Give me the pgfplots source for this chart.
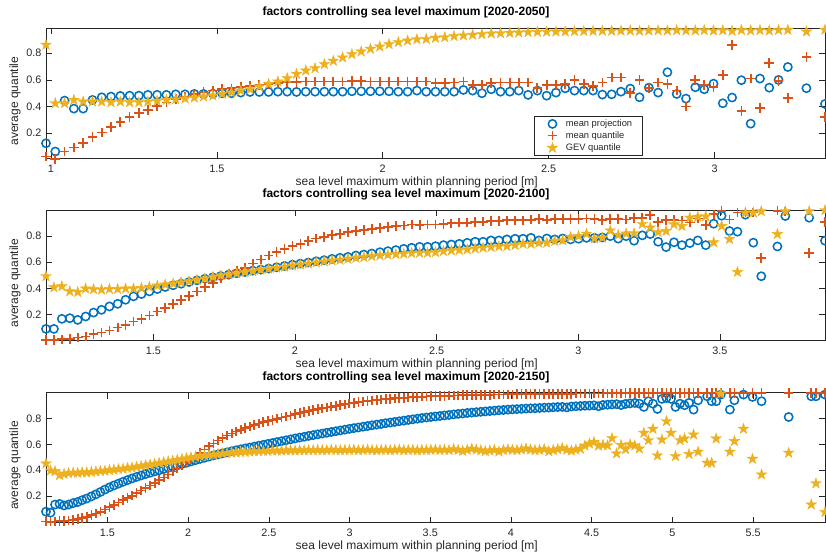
\documentclass[border=0pt]{standalone}
\usepackage{pgfplots}
\pgfplotsset{compat=1.18}
\usepackage{pgfplotstable}
\usepackage{fontspec}
\setmainfont{Liberation Sans}
\definecolor{cA}{RGB}{0,114,189}
\definecolor{cB}{RGB}{217,83,25}
\definecolor{cC}{RGB}{237,177,32}
\definecolor{axc}{RGB}{38,38,38}

\pgfdeclareplotmark{pentagram}{%
  \pgfpathmoveto{\pgfpointpolar{90}{\pgfplotmarksize}}%
  \pgfpathlineto{\pgfpointpolar{126}{0.382\pgfplotmarksize}}%
  \pgfpathlineto{\pgfpointpolar{162}{\pgfplotmarksize}}%
  \pgfpathlineto{\pgfpointpolar{198}{0.382\pgfplotmarksize}}%
  \pgfpathlineto{\pgfpointpolar{234}{\pgfplotmarksize}}%
  \pgfpathlineto{\pgfpointpolar{270}{0.382\pgfplotmarksize}}%
  \pgfpathlineto{\pgfpointpolar{306}{\pgfplotmarksize}}%
  \pgfpathlineto{\pgfpointpolar{342}{0.382\pgfplotmarksize}}%
  \pgfpathlineto{\pgfpointpolar{18}{\pgfplotmarksize}}%
  \pgfpathlineto{\pgfpointpolar{54}{0.382\pgfplotmarksize}}%
  \pgfpathclose
  \pgfusepathqfillstroke
}

% 2020-2050
\pgfplotstableread{
x c p s
0.985 0.125 0.025 0.863
1.013 0.063 0.008 0.425
1.041 0.445 0.063 0.425
1.069 0.385 0.093 0.450
1.097 0.385 0.125 0.437
1.125 0.450 0.170 0.437
1.153 0.470 0.205 0.437
1.181 0.475 0.245 0.432
1.209 0.480 0.283 0.437
1.237 0.482 0.320 0.432
1.265 0.482 0.350 0.432
1.292 0.488 0.375 0.437
1.320 0.488 0.405 0.442
1.348 0.488 0.430 0.450
1.376 0.492 0.455 0.455
1.404 0.492 0.475 0.460
1.432 0.495 0.492 0.467
1.460 0.495 0.508 0.475
1.488 0.497 0.520 0.482
1.516 0.500 0.530 0.495
1.544 0.500 0.537 0.505
1.572 0.505 0.545 0.520
1.600 0.510 0.555 0.530
1.628 0.510 0.563 0.550
1.656 0.510 0.570 0.570
1.684 0.512 0.575 0.588
1.712 0.512 0.582 0.613
1.740 0.510 0.585 0.645
1.768 0.512 0.588 0.670
1.796 0.512 0.588 0.688
1.824 0.512 0.588 0.718
1.851 0.512 0.588 0.743
1.879 0.512 0.588 0.768
1.907 0.515 0.592 0.793
1.935 0.515 0.592 0.813
1.963 0.515 0.588 0.833
1.991 0.515 0.588 0.850
2.019 0.515 0.588 0.868
2.047 0.512 0.588 0.883
2.075 0.512 0.588 0.895
2.103 0.520 0.588 0.905
2.131 0.512 0.588 0.907
2.159 0.512 0.575 0.915
2.187 0.512 0.575 0.920
2.215 0.512 0.580 0.928
2.243 0.525 0.588 0.933
2.271 0.520 0.563 0.938
2.299 0.500 0.563 0.943
2.327 0.530 0.575 0.948
2.355 0.512 0.580 0.950
2.383 0.512 0.580 0.953
2.410 0.520 0.580 0.955
2.438 0.488 0.580 0.958
2.466 0.520 0.538 0.960
2.494 0.482 0.563 0.961
2.522 0.505 0.563 0.962
2.550 0.537 0.570 0.963
2.578 0.520 0.600 0.965
2.606 0.520 0.570 0.966
2.634 0.520 0.555 0.967
2.662 0.490 0.580 0.968
2.690 0.492 0.618 0.968
2.718 0.512 0.618 0.969
2.746 0.535 0.500 0.970
2.774 0.470 0.600 0.968
2.802 0.542 0.540 0.970
2.830 0.505 0.580 0.971
2.858 0.658 0.568 0.970
2.886 0.495 0.520 0.972
2.914 0.460 0.400 0.970
2.942 0.545 0.600 0.971
2.969 0.530 0.563 0.973
2.997 0.572 0.545 0.970
3.025 0.425 0.638 0.972
3.053 0.468 0.860 0.968
3.081 0.598 0.365 0.974
3.109 0.272 0.610 0.971
3.137 0.610 0.388 0.973
3.165 0.542 0.725 0.970
3.193 0.600 0.590 0.974
3.221 0.697 0.465 0.975
3.277 0.538 0.773 0.962
3.333 0.420 0.320 0.976
}\tA

% 2020-2100
\pgfplotstableread{
x c p s
1.121 0.090 0.005 0.493
1.149 0.090 0.005 0.408
1.177 0.167 0.010 0.416
1.205 0.172 0.013 0.377
1.233 0.159 0.024 0.372
1.261 0.185 0.031 0.398
1.289 0.215 0.049 0.393
1.317 0.236 0.062 0.390
1.345 0.262 0.077 0.395
1.374 0.282 0.100 0.395
1.402 0.313 0.121 0.398
1.430 0.339 0.146 0.398
1.458 0.357 0.167 0.403
1.486 0.377 0.193 0.411
1.514 0.395 0.223 0.421
1.542 0.411 0.249 0.429
1.570 0.424 0.280 0.436
1.598 0.436 0.313 0.447
1.626 0.449 0.344 0.454
1.654 0.462 0.377 0.465
1.682 0.474 0.411 0.475
1.710 0.485 0.441 0.488
1.738 0.495 0.480 0.498
1.766 0.505 0.511 0.506
1.794 0.516 0.536 0.516
1.823 0.526 0.557 0.524
1.851 0.536 0.590 0.531
1.879 0.544 0.621 0.542
1.907 0.552 0.652 0.549
1.935 0.562 0.677 0.557
1.963 0.572 0.703 0.565
1.991 0.582 0.723 0.575
2.019 0.590 0.741 0.582
2.047 0.598 0.762 0.590
2.075 0.608 0.782 0.598
2.103 0.616 0.795 0.606
2.131 0.626 0.808 0.613
2.159 0.634 0.818 0.618
2.187 0.641 0.831 0.626
2.215 0.652 0.839 0.634
2.243 0.659 0.846 0.639
2.271 0.667 0.854 0.647
2.300 0.677 0.864 0.652
2.328 0.685 0.869 0.657
2.356 0.693 0.877 0.662
2.384 0.703 0.882 0.665
2.412 0.711 0.890 0.670
2.440 0.718 0.885 0.672
2.468 0.718 0.890 0.672
2.496 0.723 0.890 0.677
2.524 0.731 0.895 0.685
2.552 0.736 0.898 0.690
2.580 0.741 0.903 0.693
2.608 0.749 0.903 0.698
2.636 0.757 0.908 0.705
2.664 0.757 0.911 0.711
2.692 0.767 0.916 0.716
2.720 0.767 0.916 0.721
2.748 0.775 0.921 0.723
2.777 0.780 0.921 0.731
2.805 0.780 0.921 0.741
2.833 0.787 0.926 0.741
2.861 0.767 0.929 0.749
2.889 0.782 0.926 0.749
2.917 0.775 0.929 0.762
2.945 0.782 0.929 0.767
2.973 0.775 0.929 0.793
3.001 0.780 0.929 0.800
3.029 0.787 0.934 0.818
3.057 0.787 0.929 0.782
3.085 0.790 0.925 0.788
3.113 0.800 0.930 0.843
3.141 0.781 0.930 0.809
3.169 0.800 0.928 0.820
3.197 0.765 0.940 0.822
3.226 0.806 0.938 0.893
3.254 0.816 0.960 0.866
3.282 0.757 0.908 0.830
3.310 0.716 0.923 0.839
3.338 0.753 0.923 0.890
3.366 0.731 0.920 0.877
3.394 0.747 0.905 0.941
3.422 0.767 0.935 0.948
3.450 0.731 0.885 0.952
3.478 0.895 0.967 0.752
3.506 0.956 0.995 0.877
3.534 0.839 0.928 0.777
3.562 0.834 0.980 0.525
3.590 0.964 0.980 0.980
3.618 0.750 0.980 0.980
3.646 0.493 0.634 0.990
3.703 0.721 0.995 0.815
3.731 0.954 0.990 0.990
3.815 0.941 0.670 0.990
3.871 0.765 0.910 0.998
}\tB

% 2020-2150
\pgfplotstableread{
x c p s
1.120 0.080 0.004 0.452
1.148 0.072 0.003 0.398
1.176 0.135 0.004 0.392
1.204 0.140 0.006 0.362
1.232 0.128 0.008 0.372
1.260 0.135 0.011 0.378
1.288 0.146 0.016 0.381
1.316 0.155 0.022 0.379
1.344 0.169 0.030 0.384
1.372 0.182 0.040 0.383
1.401 0.198 0.052 0.387
1.429 0.214 0.065 0.390
1.457 0.232 0.080 0.394
1.485 0.251 0.097 0.396
1.513 0.268 0.115 0.401
1.541 0.283 0.132 0.404
1.569 0.297 0.150 0.409
1.597 0.311 0.168 0.412
1.625 0.324 0.186 0.418
1.653 0.337 0.204 0.421
1.681 0.349 0.223 0.427
1.709 0.360 0.243 0.432
1.737 0.371 0.262 0.438
1.765 0.381 0.282 0.444
1.793 0.391 0.302 0.449
1.821 0.400 0.323 0.456
1.849 0.410 0.345 0.462
1.877 0.419 0.367 0.468
1.905 0.429 0.390 0.474
1.933 0.438 0.413 0.480
1.962 0.448 0.437 0.487
1.990 0.458 0.461 0.493
2.018 0.468 0.486 0.499
2.046 0.478 0.511 0.504
2.074 0.488 0.536 0.509
2.102 0.497 0.561 0.514
2.130 0.506 0.585 0.518
2.158 0.515 0.608 0.522
2.186 0.523 0.630 0.526
2.214 0.531 0.650 0.529
2.242 0.539 0.668 0.532
2.270 0.547 0.685 0.535
2.298 0.555 0.700 0.537
2.326 0.562 0.714 0.540
2.354 0.569 0.727 0.542
2.382 0.576 0.739 0.544
2.410 0.583 0.750 0.546
2.438 0.590 0.761 0.547
2.466 0.597 0.771 0.549
2.494 0.604 0.781 0.550
2.523 0.611 0.790 0.551
2.551 0.618 0.799 0.552
2.579 0.625 0.808 0.551
2.607 0.632 0.816 0.553
2.635 0.639 0.824 0.554
2.663 0.646 0.835 0.553
2.691 0.653 0.843 0.555
2.719 0.659 0.851 0.554
2.747 0.666 0.858 0.556
2.775 0.672 0.865 0.555
2.803 0.678 0.872 0.557
2.831 0.684 0.879 0.555
2.859 0.690 0.886 0.556
2.887 0.696 0.892 0.558
2.915 0.702 0.898 0.556
2.943 0.708 0.904 0.555
2.971 0.714 0.910 0.557
2.999 0.720 0.916 0.556
3.027 0.726 0.921 0.558
3.055 0.731 0.926 0.555
3.084 0.737 0.931 0.557
3.112 0.742 0.935 0.559
3.140 0.748 0.939 0.556
3.168 0.753 0.943 0.554
3.196 0.758 0.947 0.557
3.224 0.764 0.950 0.558
3.252 0.769 0.953 0.555
3.280 0.774 0.956 0.557
3.308 0.779 0.959 0.560
3.336 0.784 0.961 0.555
3.364 0.789 0.963 0.557
3.392 0.794 0.965 0.558
3.420 0.799 0.967 0.554
3.448 0.804 0.969 0.557
3.476 0.808 0.971 0.556
3.504 0.812 0.972 0.558
3.532 0.816 0.974 0.560
3.560 0.820 0.975 0.556
3.588 0.824 0.976 0.558
3.616 0.828 0.977 0.556
3.645 0.832 0.978 0.563
3.673 0.836 0.979 0.557
3.701 0.839 0.980 0.549
3.729 0.843 0.981 0.558
3.757 0.846 0.982 0.566
3.785 0.849 0.982 0.560
3.813 0.852 0.983 0.554
3.841 0.855 0.984 0.547
3.869 0.858 0.984 0.553
3.897 0.861 0.985 0.557
3.925 0.864 0.986 0.545
3.953 0.866 0.986 0.557
3.981 0.869 0.987 0.562
4.009 0.871 0.987 0.558
4.037 0.873 0.988 0.556
4.065 0.875 0.988 0.561
4.093 0.877 0.989 0.567
4.121 0.879 0.989 0.560
4.149 0.880 0.990 0.555
4.177 0.882 0.990 0.558
4.206 0.884 0.990 0.563
4.234 0.885 0.991 0.547
4.262 0.887 0.991 0.556
4.290 0.889 0.991 0.563
4.318 0.890 0.992 0.571
4.346 0.886 0.992 0.558
4.374 0.893 0.992 0.552
4.402 0.895 0.993 0.560
4.430 0.897 0.993 0.566
4.458 0.899 0.993 0.590
4.486 0.900 0.994 0.606
4.514 0.902 0.994 0.619
4.542 0.895 0.994 0.590
4.570 0.905 0.994 0.596
4.598 0.907 0.995 0.592
4.626 0.909 0.995 0.648
4.654 0.911 0.995 0.530
4.682 0.904 0.995 0.595
4.710 0.913 0.996 0.562
4.738 0.917 0.996 0.600
4.767 0.921 0.998 0.591
4.795 0.915 0.998 0.568
4.823 0.890 0.998 0.689
4.851 0.934 0.998 0.632
4.879 0.915 0.998 0.720
4.907 0.874 0.998 0.514
4.935 0.952 0.998 0.637
4.963 0.959 0.998 0.779
4.991 0.952 0.998 0.689
5.019 0.890 0.998 0.509
5.047 0.915 0.998 0.632
5.075 0.903 0.998 0.645
5.103 0.921 0.998 0.525
5.131 0.869 0.998 0.676
5.159 0.941 0.998 0.543
5.215 0.972 0.998 0.457
5.243 0.934 0.998 0.457
5.271 0.934 0.998 0.645
5.299 0.985 0.998 0.993
5.356 0.869 0.998 0.543
5.384 0.941 0.998 0.625
5.440 0.985 0.998 0.720
5.496 0.967 0.998 0.488
5.552 0.934 0.998 0.367
5.720 0.812 0.998 0.535
5.860 0.972 0.998 0.135
5.889 0.972 0.998 0.298
5.945 0.985 0.998 0.076
}\tC

\pgfplotsset{
  matfig/.style={
    scale only axis, width=584.25pt, height=97.5pt,
    clip=false,
    axis line style={draw=axc, line width=0.45pt},
    tick style={draw=axc, line width=0.45pt},
    tick align=inside, major tick length=4.5pt,
    xtick pos=both, ytick pos=both,
    xticklabel pos=lower, yticklabel pos=left,
    ytick={0.2,0.4,0.6,0.8},
    tick label style={font=\fontsize{8.1}{9}\selectfont, text=axc},
    xticklabel style={yshift=-1.5pt},
    /pgf/number format/assume math mode=true,
    label style={font=\fontsize{9}{10}\selectfont, text=axc},
    title style={font=\bfseries\fontsize{9}{10}\selectfont, at={(axis description cs:0.462,1.035)}, anchor=base},
    xlabel style={at={(axis description cs:0.476,-0.21)}, anchor=base},
    ylabel style={at={(axis description cs:-0.0359,0.44)}, anchor=base},
    xlabel={sea level maximum within planning period [m]},
    ylabel={average quantile},
  },
  sA/.style={only marks, mark=o, mark size=3.1pt, draw=cA, mark options={line width=1.15pt}},
  sB/.style={only marks, mark=+, mark size=3.6pt, draw=cB, mark options={line width=1.3pt}},
  sC/.style={only marks, mark=pentagram, mark size=4.2pt, draw=cC, fill=cC, mark options={line width=0.3pt}},
}

\begin{document}
\begin{tikzpicture}
\begin{axis}[matfig,
  title={factors controlling sea level maximum [2020-2050]},
  xmin=0.985, xmax=3.333, ymin=0.0125, ymax=0.9875,
  xtick={1,1.5,2,2.5,3},
  legend style={at={(0.627,0.018)}, anchor=south west, draw=axc, line width=0.45pt,
    font=\fontsize{7}{8}\selectfont, text=axc, inner xsep=6pt, inner ysep=2pt, row sep=1.2pt,
    nodes={inner xsep=1.5pt, inner ysep=0pt, text height=6pt, text depth=1.6pt}},
  legend cell align=left,
  legend image code/.code={\draw[#1, only marks] plot coordinates {(0pt,0pt)}; \path[draw=none, fill=none] (-7.3pt,0pt) -- (8.5pt,0pt);},
]
\addplot[sA] table[x=x,y=c]{\tA};
\addplot[sB] table[x=x,y=p]{\tA};
\addplot[sC] table[x=x,y=s]{\tA};
\legend{mean projection, mean quantile, GEV quantile}
\end{axis}
\begin{axis}[matfig, at={(0pt,-136.5pt)},
  title={factors controlling sea level maximum [2020-2100]},
  xmin=1.121, xmax=3.871, ymin=0.003, ymax=0.998,
  xtick={1.5,2,2.5,3,3.5},
]
\addplot[sA] table[x=x,y=c]{\tB};
\addplot[sB] table[x=x,y=p]{\tB};
\addplot[sC] table[x=x,y=s]{\tB};
\end{axis}
\begin{axis}[matfig, at={(0pt,-273.3pt)},
  title={factors controlling sea level maximum [2020-2150]},
  xmin=1.12, xmax=5.945, ymin=-0.005, ymax=1.0,
  xtick={1.5,2,2.5,3,3.5,4,4.5,5,5.5},
]
\addplot[sA] table[x=x,y=c]{\tC};
\addplot[sB] table[x=x,y=p]{\tC};
\addplot[sC] table[x=x,y=s]{\tC};
\end{axis}
\pgfresetboundingbox
\path[use as bounding box] (-34.5pt,-296.8pt) rectangle (585pt,118.7pt);
\end{tikzpicture}
\end{document}
